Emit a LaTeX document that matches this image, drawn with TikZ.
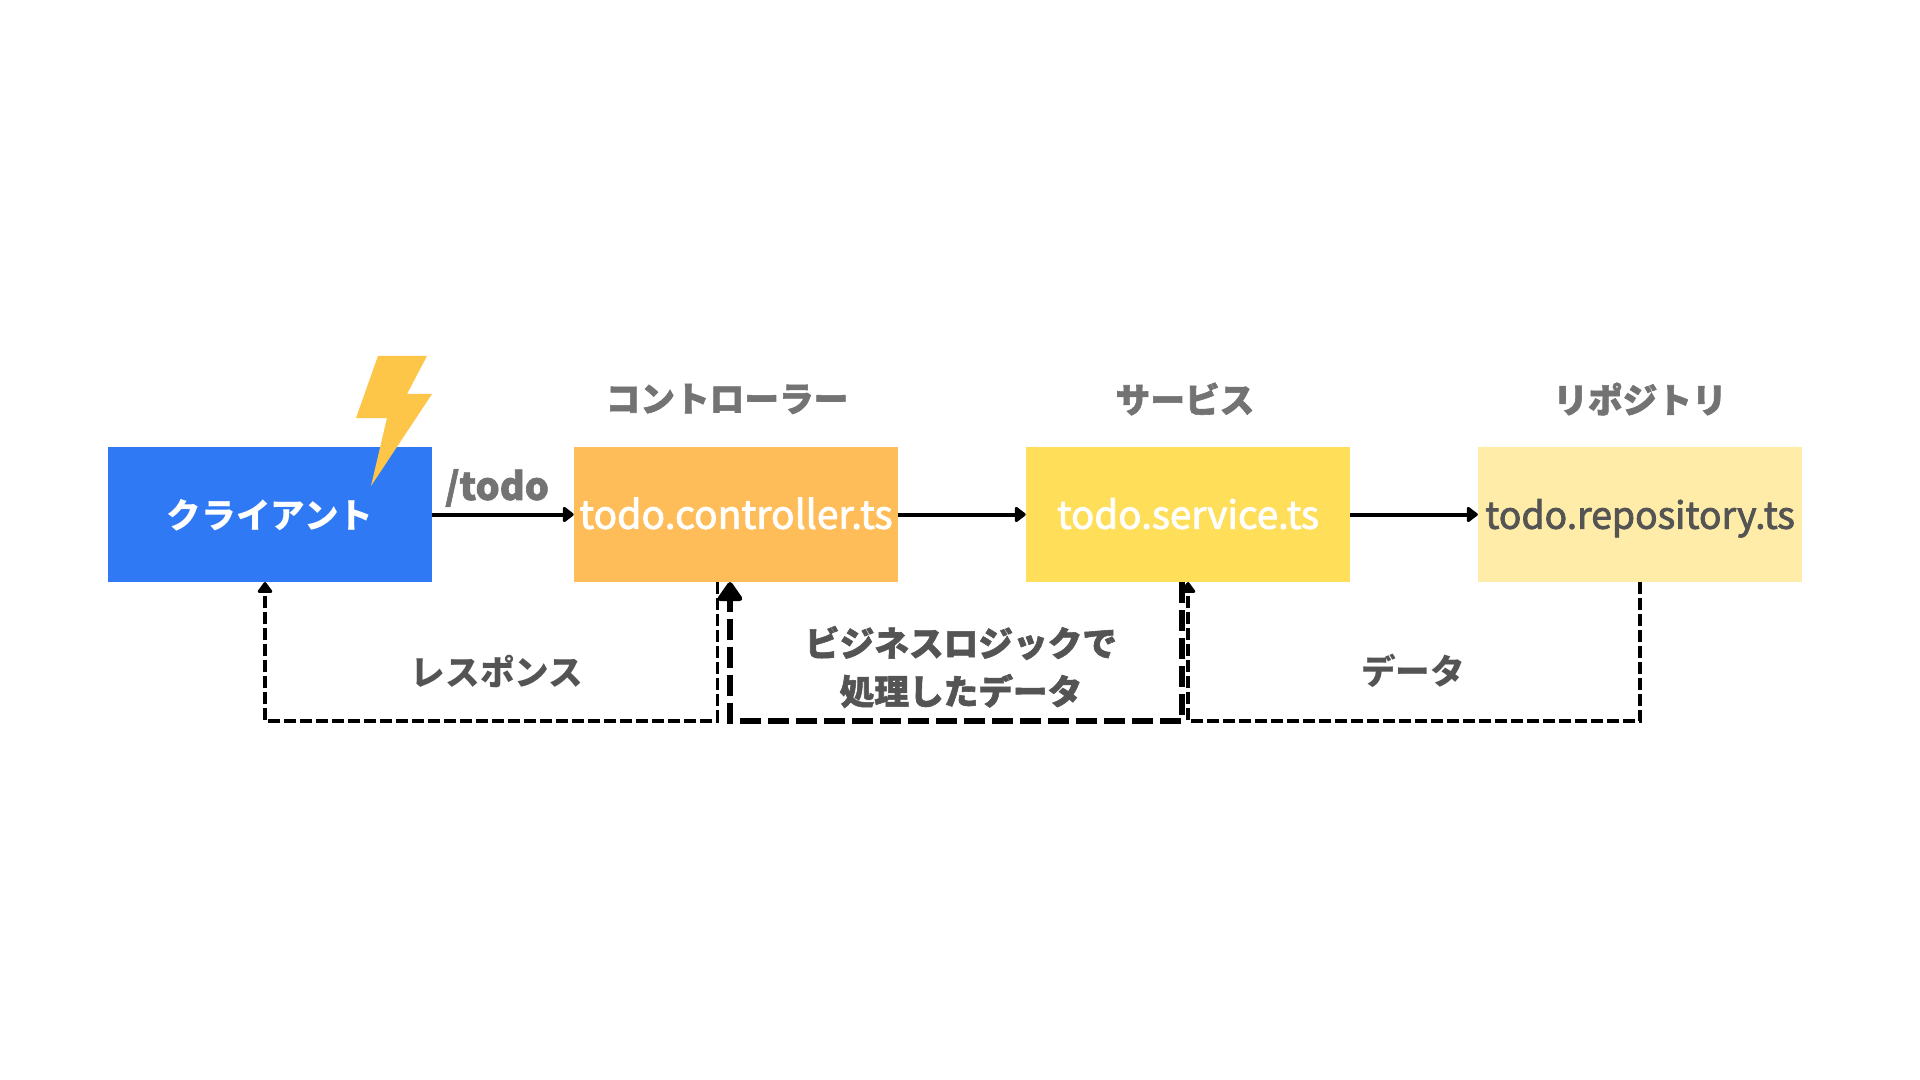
\documentclass[tikz,border=0pt]{standalone}
\usepackage{fontspec}
\setmainfont{Noto Sans CJK JP}
\newfontfamily\midfont[FakeBold=2.2]{Noto Sans CJK JP}
\newfontfamily\heavyfont[FakeBold=1.6]{Noto Sans CJK JP}
\usetikzlibrary{arrows.meta}
\definecolor{cblue}{HTML}{3079F5}
\definecolor{corange}{HTML}{FFBD59}
\definecolor{cyellow}{HTML}{FFDE59}
\definecolor{clight}{HTML}{FFECA9}
\definecolor{cbolt}{HTML}{FDC648}
\definecolor{ctext}{HTML}{545454}
\definecolor{cgray}{HTML}{737373}
\tikzset{
  x=0.75pt,y=-0.75pt,
  box/.style={minimum width=243pt,minimum height=101pt,inner sep=0pt,text height=24pt,text depth=2.6pt,font=\midfont\fontsize{26pt}{30pt}\selectfont},
  head/.style={text=cgray,font=\heavyfont\bfseries\fontsize{26pt}{30pt}\selectfont,inner sep=0pt},
  lab/.style={text=ctext,font=\bfseries\fontsize{26pt}{30pt}\selectfont,inner sep=0pt},
  bizlab/.style={text=ctext,font=\heavyfont\bfseries\fontsize{26pt}{30pt}\selectfont,inner sep=0pt},
  solidarrow/.style={line width=3pt,-{Triangle[length=9pt,width=13pt,round]}},
  thindash/.style={line width=2.8pt,dash pattern=on 9pt off 3pt,-{Triangle[length=9pt,width=12.5pt,round]}},
  thickdash/.style={line width=5.2pt,dash pattern=on 15.6pt off 5.4pt,-{Triangle[length=16pt,width=21pt,round]}},
}
\begin{document}
\begin{tikzpicture}
\useasboundingbox (0,0) rectangle (1920,1080);
\fill[white] (0,0) rectangle (1920,1080);
\node[box,fill=cblue,text=white,font=\bfseries\fontsize{26pt}{30pt}\selectfont] (client) at (270,514.5) {クライアント};
\node[box,fill=corange,text=white] (ctrl) at (736,514.5) {\fontsize{29.3pt}{30pt}\selectfont todo.controller.ts};
\node[box,fill=cyellow,text=white] (svc) at (1188,514.5) {\fontsize{28.9pt}{30pt}\selectfont todo.service.ts};
\node[box,fill=clight,text=ctext] (repo) at (1640,514.5) {\fontsize{28pt}{30pt}\selectfont todo.repository.ts};
\fill[cbolt] (378,356) -- (427,356) -- (407,394) -- (432,394) -- (371,486) -- (387,418) -- (356,418) -- cycle;
\node[head] (h1) at (727,399) {コントローラー};
\node[head] (h2) at (1185,399) {サービス};
\node[head] (h3) at (1640,399) {リポジトリ};
\node[head,font=\heavyfont\bfseries\fontsize{28.5pt}{30pt}\selectfont] (todo) at (497,488) {/todo};
\node[lab] (resp) at (497,671) {レスポンス};
\node[lab] (data) at (1413,671) {データ};
\node[bizlab] (biz1) at (961,643) {ビジネスロジックで};
\node[bizlab] (biz2) at (961,691) {処理したデータ};
\draw[solidarrow] (client.east) -- (ctrl.west);
\draw[solidarrow] (ctrl.east) -- (svc.west);
\draw[solidarrow] (svc.east) -- (repo.west);
\coordinate (low) at (0,721);
\coordinate (c1) at ([xshift=-13.9pt]ctrl.south);
\coordinate (c2) at ([xshift=-4.5pt]ctrl.south);
\coordinate (s2) at ([xshift=-4.5pt]svc.south);
\coordinate (cl) at ([xshift=-3.75pt]client.south);
\draw[thindash] (c1) -- (c1 |- low) -- (cl |- low) -- (cl);
\draw[thindash] (repo.south) -- (repo.south |- low) -- (svc.south |- low) -- (svc.south);
\draw[thickdash] (s2) -- (s2 |- low) -- (c2 |- low) -- (c2);
\end{tikzpicture}
\end{document}
